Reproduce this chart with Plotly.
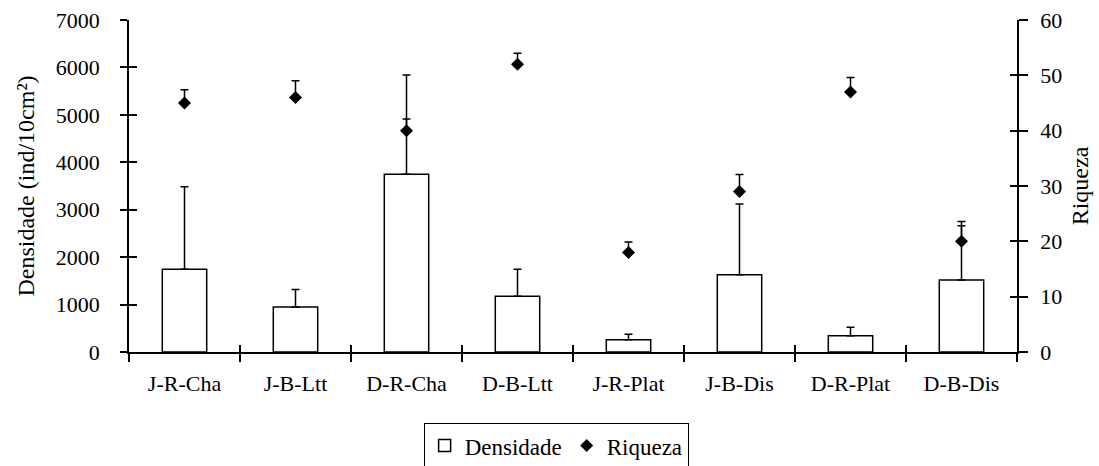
import plotly.graph_objects as go

# Sampling sites
sites = ["J-R-Cha", "J-B-Ltt", "D-R-Cha", "D-B-Ltt", "J-R-Plat", "J-B-Dis", "D-R-Plat", "D-B-Dis"]

# Density (ind/10cm²) with upper standard deviation
densidade = [1745, 950, 3750, 1175, 260, 1630, 345, 1520]
densidade_dp = [1740, 370, 2090, 570, 112, 1490, 176, 1230]

# Richness (number of taxa) with upper standard deviation
riqueza = [45, 46, 40, 52, 18, 29, 47, 20]
riqueza_dp = [2.4, 3, 2.1, 2, 1.9, 3.1, 2.6, 2.8]

FONT = "Times New Roman, Liberation Serif, serif"
INK = "#000000"

fig = go.Figure()

fig.add_trace(go.Bar(
    x=sites, y=densidade, name="Densidade",
    marker=dict(color="white", line=dict(color=INK, width=1.5)),
    width=0.4,
    error_y=dict(type="data", symmetric=False, array=densidade_dp,
                 arrayminus=[0] * len(sites), color=INK, thickness=1.5, width=4),
    xaxis="x", yaxis="y",
))

fig.add_trace(go.Scatter(
    x=sites, y=riqueza, name="Riqueza", mode="markers",
    marker=dict(symbol="diamond", size=10, color=INK),
    error_y=dict(type="data", symmetric=False, array=riqueza_dp,
                 arrayminus=[0] * len(sites), color=INK, thickness=1.5, width=4),
    xaxis="x", yaxis="y2",
))

# Empty companions so the inner tick marks are drawn on both sides of each axis
blank = [None] * len(sites)
fig.add_trace(go.Scatter(x=sites, y=blank, mode="markers", showlegend=False,
                         hoverinfo="skip", xaxis="x2", yaxis="y3"))
fig.add_trace(go.Scatter(x=sites, y=blank, mode="markers", showlegend=False,
                         hoverinfo="skip", xaxis="x2", yaxis="y4"))

tick_font = dict(family=FONT, size=22, color=INK)
title_font = dict(family=FONT, size=24, color=INK)

fig.update_layout(
    width=1099, height=466,
    margin=dict(l=129, r=82, t=20, b=114, autoexpand=False),
    paper_bgcolor="white", plot_bgcolor="white",
    font=dict(family=FONT, color=INK),
    xaxis=dict(
        type="category", categoryarray=sites, range=[-0.5, 7.5],
        showline=True, linecolor=INK, linewidth=1.5,
        ticks="outside", tickson="boundaries", ticklen=8, tickwidth=1.5, tickcolor=INK,
        ticklabelstandoff=11, tickfont=tick_font, showgrid=False, zeroline=False,
    ),
    xaxis2=dict(
        type="category", categoryarray=sites, range=[-0.5, 7.5], overlaying="x",
        ticks="inside", tickson="boundaries", ticklen=7, tickwidth=1.5, tickcolor=INK,
        showticklabels=False, showgrid=False, zeroline=False, showline=False,
    ),
    yaxis=dict(
        range=[0, 7000], dtick=1000, tickformat="d",
        showline=True, linecolor=INK, linewidth=1.5,
        ticks="outside", ticklen=7, tickwidth=1.5, tickcolor=INK,
        ticklabelstandoff=16, tickfont=tick_font, showgrid=False, zeroline=False,
        title=dict(text="Densidade (ind/10cm²)", font=title_font, standoff=14),
    ),
    yaxis2=dict(
        range=[0, 60], dtick=10, overlaying="y", side="right",
        showline=True, linecolor=INK, linewidth=1.5,
        ticks="outside", ticklen=9, tickwidth=1.5, tickcolor=INK,
        ticklabelstandoff=8, tickfont=tick_font, showgrid=False, zeroline=False,
        title=dict(text="Riqueza", font=title_font, standoff=10),
    ),
    yaxis3=dict(
        range=[0, 7000], dtick=1000, overlaying="y", side="left",
        ticks="inside", ticklen=8, tickwidth=1.5, tickcolor=INK,
        showticklabels=False, showgrid=False, zeroline=False, showline=False,
    ),
    yaxis4=dict(
        range=[0, 60], dtick=10, overlaying="y", side="right",
        ticks="inside", ticklen=7, tickwidth=1.5, tickcolor=INK,
        showticklabels=False, showgrid=False, zeroline=False, showline=False,
    ),
    legend=dict(
        orientation="h", x=0.481, xanchor="center",
        yref="container", y=0.092, yanchor="top",
        bordercolor=INK, borderwidth=1, bgcolor="white",
        font=dict(family=FONT, size=23, color=INK),
    ),
    showlegend=True,
)

fig.write_html("out.html")
